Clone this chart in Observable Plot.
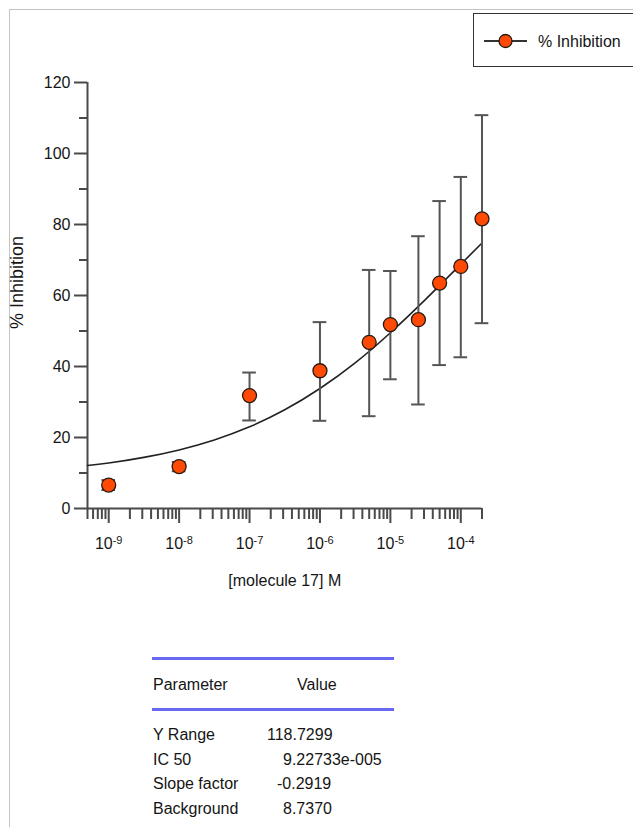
<!DOCTYPE html>
<html>
<head>
<meta charset="utf-8">
<script src="https://cdn.jsdelivr.net/npm/d3@7"></script>
<script src="https://cdn.jsdelivr.net/npm/@observablehq/plot@0.6"></script>
<style>
  html, body { margin: 0; padding: 0; background: #fff; }
  #page { position: relative; width: 633px; height: 827px; overflow: hidden; background: #fff;
          font-family: "Liberation Sans", Arial, Helvetica, sans-serif; color: #222; }
  #frame { position: absolute; left: 9px; top: 9px; width: 640px; height: 830px;
           border-top: 1.5px solid #c4c4c4; border-left: 1.5px solid #c4c4c4; }
  #chart { position: absolute; left: 0; top: 0; }
  #legend { position: absolute; left: 473px; top: 13px; width: 180px; height: 52px;
            border: 1.5px solid #333; background: #fff; }
  #legend svg { position: absolute; left: 0; top: 0; }
  #table { position: absolute; left: 0; top: 0; }
</style>
</head>
<body>
<div id="page">
  <div id="frame"></div>
  <div id="chart"></div>
  <div id="legend"></div>
  <svg id="table" width="633" height="827"></svg>
</div>
<script>
// ---- data ----
const concentration = [1e-9, 1e-8, 1e-7, 1e-6, 5e-6, 1e-5, 2.5e-5, 5e-5, 1e-4, 2e-4];
const inhibition    = [6.6, 11.8, 31.8, 38.8, 46.8, 51.8, 53.2, 63.5, 68.2, 81.6];
const errorLow      = [5.2, 10.5, 24.8, 24.7, 26.0, 36.4, 29.3, 40.4, 42.6, 52.2];
const errorHigh     = [8.0, 13.1, 38.3, 52.5, 67.2, 66.9, 76.7, 86.6, 93.4, 110.8];

// fitted curve
const fitConcentration = [5e-10, 1e-9, 3.16e-9, 1e-8, 3.16e-8, 1e-7, 3.16e-7, 1e-6, 3.16e-6, 1e-5, 3.16e-5, 1e-4, 2e-4];
const fitInhibition    = [12.1, 12.8, 14.4, 16.5, 19.3, 23.0, 27.8, 33.8, 41.0, 49.5, 58.9, 68.8, 74.8];

const yMajorTicks = [0, 20, 40, 60, 80, 100, 120];
const yMinorTicks = [10, 30, 50, 70, 90, 110];
const xMajorTicks = [1e-9, 1e-8, 1e-7, 1e-6, 1e-5, 1e-4];
const xMinorTicks = [5e-10, 6e-10, 7e-10, 8e-10, 9e-10,
  2e-9, 3e-9, 4e-9, 5e-9, 6e-9, 7e-9, 8e-9, 9e-9,
  2e-8, 3e-8, 4e-8, 5e-8, 6e-8, 7e-8, 8e-8, 9e-8,
  2e-7, 3e-7, 4e-7, 5e-7, 6e-7, 7e-7, 8e-7, 9e-7,
  2e-6, 3e-6, 4e-6, 5e-6, 6e-6, 7e-6, 8e-6, 9e-6,
  2e-5, 3e-5, 4e-5, 5e-5, 6e-5, 7e-5, 8e-5, 9e-5,
  2e-4];
const xDomain = [5e-10, 2e-4];
const yDomain = [0, 120];

const xLabel = "[molecule 17] M";
const yLabel = "% Inhibition";
const seriesName = "% Inhibition";

const paramNames  = ["Y Range", "IC 50", "Slope factor", "Background"];
const paramValues = ["118.7299", "9.22733e-005", "-0.2919", "8.7370"];
const tableHeader = ["Parameter", "Value"];

// ---- build table of points ----
const points = concentration.map((c, i) => ({c, y: inhibition[i], lo: errorLow[i], hi: errorHigh[i]}));
const fit = fitConcentration.map((c, i) => ({c, y: fitInhibition[i]}));

const fontFamily = '"Liberation Sans", Arial, Helvetica, sans-serif';
const axisColor = "#4a4a4a";
const textColor = "#151515";
const dotFill = "#ff4a06";
const capFactor = 1.25;

const chart = Plot.plot({
  width: 633,
  height: 620,
  marginLeft: 87,
  marginRight: 151.5,
  marginTop: 82,
  marginBottom: 112,
  style: {fontFamily, fontSize: "16px", color: textColor, background: "transparent"},
  x: {type: "log", domain: xDomain},
  y: {domain: yDomain},
  marks: [
    // axes lines
    Plot.ruleX([xDomain[0]], {y1: yDomain[0], y2: yDomain[1], stroke: axisColor, strokeWidth: 2}),
    Plot.ruleY([0], {x1: xDomain[0], x2: xDomain[1], stroke: axisColor, strokeWidth: 2}),
    // y ticks
    Plot.axisY({ticks: yMajorTicks, tickSize: 13, tickPadding: 4, strokeWidth: 2, stroke: axisColor, fill: textColor, label: null, tickFormat: d => String(d)}),
    Plot.axisY({ticks: yMinorTicks, tickSize: 8, strokeWidth: 2, stroke: axisColor, label: null, tickFormat: () => ""}),
    // x ticks
    Plot.axisX({ticks: xMinorTicks, tickSize: 11, strokeWidth: 2, stroke: axisColor, label: null, tickFormat: () => ""}),
    Plot.axisX({ticks: xMajorTicks, tickSize: 15, tickPadding: 14, strokeWidth: 2, stroke: axisColor, fill: textColor, label: null,
      tickFormat: d => "10^" + Math.round(Math.log10(d))}),
    // axis titles
    Plot.text([xLabel], {frameAnchor: "bottom", dy: 77, fontSize: 16, fill: textColor}),
    Plot.text([yLabel], {frameAnchor: "left", textAnchor: "middle", dx: -70, dy: -13, rotate: -90, fontSize: 18, fill: textColor}),
    // fit curve
    Plot.line(fit, {x: "c", y: "y", curve: "natural", stroke: "#222", strokeWidth: 1.6}),
    // error bars
    Plot.ruleX(points, {x: "c", y1: "lo", y2: "hi", stroke: "#555", strokeWidth: 2}),
    Plot.ruleY(points, {y: "hi", x1: d => d.c / capFactor, x2: d => d.c * capFactor, stroke: "#555", strokeWidth: 2}),
    Plot.ruleY(points, {y: "lo", x1: d => d.c / capFactor, x2: d => d.c * capFactor, stroke: "#555", strokeWidth: 2}),
    // points
    Plot.dot(points, {x: "c", y: "y", r: 7, fill: dotFill, stroke: "#2a1a10", strokeWidth: 1.3})
  ]
});
document.getElementById("chart").appendChild(chart);

// tick labels: explicit size, superscript exponents on x
d3.select(chart).selectAll("text").each(function() {
  const t = d3.select(this);
  const s = t.text();
  if (/^\d+$/.test(s)) {
    t.style("font-size", "16px");
    return;
  }
  if (!s.startsWith("10^")) return;
  const exp = s.split("^")[1];
  t.style("font-size", "16px");
  t.text("10");
  t.append("tspan").attr("dy", "-0.45em").style("font-size", "11px").text(exp);
});

// legend
const lg = d3.select("#legend").append("svg").attr("width", 180).attr("height", 52);
lg.append("line").attr("x1", 10).attr("x2", 53).attr("y1", 27).attr("y2", 27).attr("stroke", "#333").attr("stroke-width", 2);
lg.append("circle").attr("cx", 31.5).attr("cy", 27).attr("r", 6.5).attr("fill", dotFill).attr("stroke", "#2a1a10").attr("stroke-width", 1.3);
lg.append("text").attr("x", 64).attr("y", 32.5).attr("font-size", "16px").attr("fill", textColor)
  .attr("font-family", fontFamily).text(seriesName);

// parameter table
const tb = d3.select("#table").attr("font-family", fontFamily).attr("font-size", "16px").attr("fill", textColor);
tb.append("line").attr("x1", 152).attr("x2", 394).attr("y1", 658.5).attr("y2", 658.5).attr("stroke", "#6868f2").attr("stroke-width", 3);
tb.append("line").attr("x1", 152).attr("x2", 394).attr("y1", 709.5).attr("y2", 709.5).attr("stroke", "#6868f2").attr("stroke-width", 3);
tb.append("text").attr("x", 153).attr("y", 690).text(tableHeader[0]);
tb.append("text").attr("x", 297).attr("y", 690).text(tableHeader[1]);
const valueX = [267, 283, 277, 283];
paramNames.forEach((n, i) => {
  const y = 740 + i * 24.7;
  tb.append("text").attr("x", 153).attr("y", y).text(n);
  tb.append("text").attr("x", valueX[i]).attr("y", y).text(paramValues[i]);
});
</script>
</body>
</html>
